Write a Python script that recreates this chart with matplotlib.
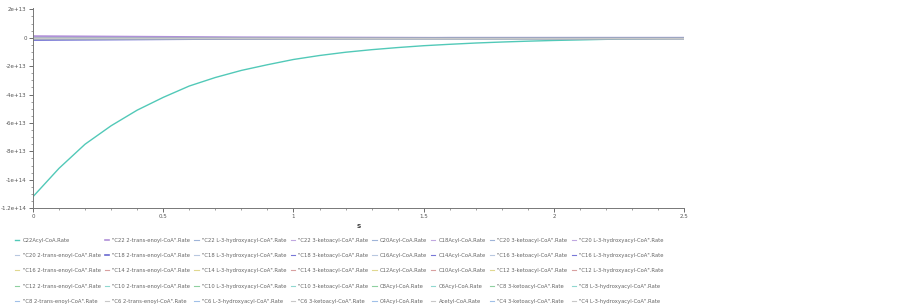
import numpy as np
import matplotlib
matplotlib.use('Agg')
import matplotlib.pyplot as plt
from matplotlib.ticker import MultipleLocator

# time points (s)
t = [0.0, 0.1, 0.2, 0.3, 0.4, 0.5, 0.6, 0.7, 0.8, 0.9, 1.0, 1.1, 1.2,
     1.3, 1.4, 1.5, 1.6, 1.7, 1.8, 1.9, 2.0, 2.1, 2.2, 2.3, 2.4, 2.5]

# the big curve, in units of 1e12
big = [-112, -92, -75, -62, -51, -42, -34, -28, -23, -19, -15.3, -12.5, -10.2,
       -8.4, -6.9, -5.6, -4.6, -3.7, -3.0, -2.4, -1.9, -1.5, -1.1, -0.8, -0.5, -0.3]

# small series sitting on the zero line, units of 1e12
small_a = [1.2, 1.1, 1.0, 0.9, 0.8, 0.7, 0.6, 0.5, 0.4, 0.35, 0.3, 0.25, 0.2,
           0.15, 0.1, 0.05, 0.0, 0.0, 0.0, 0.0, 0.0, 0.0, 0.0, 0.0, 0.0, 0.0]
small_b = [-1.6, -1.5, -1.4, -1.3, -1.2, -1.1, -1.0, -0.9, -0.8, -0.7, -0.6, -0.5, -0.4,
           -0.3, -0.2, -0.1, 0.0, 0.0, 0.0, 0.0, 0.0, 0.0, 0.0, 0.0, 0.0, 0.0]
small_c = [0.8, 0.6, 0.4, 0.3, 0.2, 0.1, 0.0, 0.0, 0.0, 0.0, 0.0, 0.0, 0.0,
           0.0, 0.0, 0.0, 0.0, 0.0, 0.0, 0.0, 0.0, 0.0, 0.0, 0.0, 0.0, 0.0]
zero = [0.0] * len(t)

labels = [
    'C22Acyl-CoA.Rate', '"C20 2-trans-enoyl-CoA".Rate', '"C16 2-trans-enoyl-CoA".Rate',
    '"C12 2-trans-enoyl-CoA".Rate', '"C8 2-trans-enoyl-CoA".Rate',
    '"C22 2-trans-enoyl-CoA".Rate', '"C18 2-trans-enoyl-CoA".Rate', '"C14 2-trans-enoyl-CoA".Rate',
    '"C10 2-trans-enoyl-CoA".Rate', '"C6 2-trans-enoyl-CoA".Rate',
    '"C22 L-3-hydroxyacyl-CoA".Rate', '"C18 L-3-hydroxyacyl-CoA".Rate', '"C14 L-3-hydroxyacyl-CoA".Rate',
    '"C10 L-3-hydroxyacyl-CoA".Rate', '"C6 L-3-hydroxyacyl-CoA".Rate',
    '"C22 3-ketoacyl-CoA".Rate', '"C18 3-ketoacyl-CoA".Rate', '"C14 3-ketoacyl-CoA".Rate',
    '"C10 3-ketoacyl-CoA".Rate', '"C6 3-ketoacyl-CoA".Rate',
    'C20Acyl-CoA.Rate', 'C16Acyl-CoA.Rate', 'C12Acyl-CoA.Rate', 'C8Acyl-CoA.Rate', 'C4Acyl-CoA.Rate',
    'C18Acyl-CoA.Rate', 'C14Acyl-CoA.Rate', 'C10Acyl-CoA.Rate', 'C6Acyl-CoA.Rate', 'Acetyl-CoA.Rate',
    '"C20 3-ketoacyl-CoA".Rate', '"C16 3-ketoacyl-CoA".Rate', '"C12 3-ketoacyl-CoA".Rate',
    '"C8 3-ketoacyl-CoA".Rate', '"C4 3-ketoacyl-CoA".Rate',
    '"C20 L-3-hydroxyacyl-CoA".Rate', '"C16 L-3-hydroxyacyl-CoA".Rate', '"C12 L-3-hydroxyacyl-CoA".Rate',
    '"C8 L-3-hydroxyacyl-CoA".Rate', '"C4 L-3-hydroxyacyl-CoA".Rate',
]

palette = ['#9fb4d8', '#b8c8e0', '#e0d890', '#8fd0a0', '#a0c0e8',
           '#c0a8e0', '#7878d8', '#d8a0a0', '#90d8d0', '#c8c8c8']

yticks = [2e13, 0, -2e13, -4e13, -6e13, -8e13, -1e14, -1.2e14]
ytick_labels = ['2e+13', '0', '-2e+13', '-4e+13', '-6e+13', '-8e+13', '-1e+14', '-1.2e+14']
xticks = [0, 0.5, 1, 1.5, 2, 2.5]
xtick_labels = ['0', '0.5', '1', '1.5', '2', '2.5']

fig = plt.figure(figsize=(8.98, 3.06), dpi=100)
ax = fig.add_axes([0.0367, 0.320, 0.7253, 0.654])

tt = np.array(t)
for i, lab in enumerate(labels):
    col = palette[i % len(palette)]
    y = zero
    lw = 0.8
    if i == 0:
        y, col, lw = big, '#52c9b8', 1.0
    elif i == 5:
        y, col, lw = small_a, '#b090d8', 1.2
    elif i == 6:
        y, col, lw = small_b, '#6868d0', 1.2
    elif i == 1:
        y = small_c
    ax.plot(tt, np.array(y) * 1e12, color=col, lw=lw, label=lab)

ax.set_xlim(0, 2.5)
ax.set_ylim(-1.2e14, 2.1e13)
ax.set_xticks(xticks)
ax.set_xticklabels(xtick_labels)
ax.set_yticks(yticks)
ax.set_yticklabels(ytick_labels)
ax.xaxis.set_minor_locator(MultipleLocator(0.1))
ax.yaxis.set_minor_locator(MultipleLocator(5e12))
ax.tick_params(which='major', length=3, width=0.6, labelsize=4, colors='#555555', pad=1.5)
ax.tick_params(which='minor', length=1.5, width=0.5, colors='#777777')
for side in ['top', 'right']:
    ax.spines[side].set_visible(False)
for side in ['left', 'bottom']:
    ax.spines[side].set_color('#777777')
    ax.spines[side].set_linewidth(0.7)

ax.set_xlabel('s', fontsize=5, fontweight='bold', color='#444444', labelpad=3)

leg = fig.legend(loc='upper left', bbox_to_anchor=(0.014, 0.232), ncol=8, frameon=False,
                 fontsize=3.8, handlelength=0.8, handletextpad=0.6, columnspacing=0.8,
                 labelspacing=1.95, borderpad=0)
for txt in leg.get_texts():
    txt.set_color('#666666')

fig.savefig('out.png', dpi=100)
